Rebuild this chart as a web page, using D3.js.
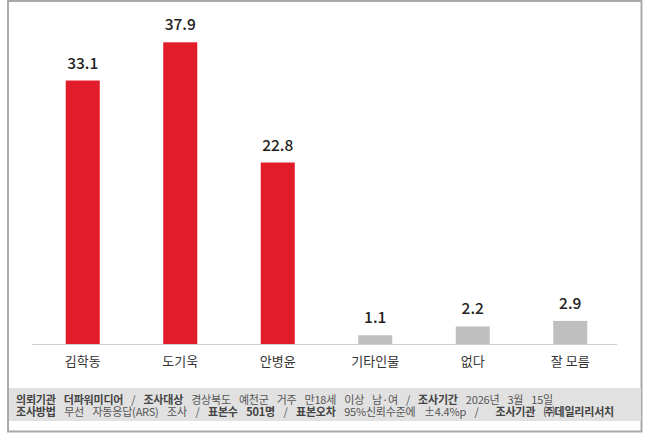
<!DOCTYPE html>
<html><head><meta charset="utf-8">
<script src="https://cdn.jsdelivr.net/npm/d3@7"></script>
<style>
html,body{margin:0;padding:0;background:#fff;}
svg{display:block;}
</style></head>
<body><svg id="c" width="649" height="441"></svg>
<script>
const categories = ["김학동","도기욱","안병윤","기타인물","없다","잘 모름"];
const values = [33.1, 37.9, 22.8, 1.1, 2.2, 2.9];
const barColors = ["#e31c2c","#e31c2c","#e31c2c","#bfbfbf","#bfbfbf","#bfbfbf"];
// [word, bold, gap weight before]
const footerLine1 = [["의뢰기관",1,0],["더파워미디어",1,1],["/",0,1],["조사대상",1,1],["경상북도",0,1],["예천군",0,1],["거주",0,1],["만18세",0,1],["이상",0,1],["남·여",0,1],["/",0,1],["조사기간",1,1],["2026년",0,1],["3월",0,1],["15일",0,1]];
const footerLine2 = [["조사방법",1,0],["무선",0,1],["자동응답(ARS)",0,1],["조사",0,1],["/",0,1],["표본수",1,1],["501명",1,1],["/",0,1],["표본오차",1,1],["95%신뢰수준에",0,1],["±4.4%p",0,1],["/",0,1],["조사기관",1,2],["㈜데일리리서치",1,1]];

const svg = d3.select("#c");
const font = "'Noto Sans CJK KR','Noto Sans',sans-serif";

// frame
svg.append("rect").attr("x",8).attr("y",1).attr("width",633.5).attr("height",430.5)
  .attr("fill","#fff").attr("stroke","#a9a9a9").attr("stroke-width",2);

// footer band
svg.append("rect").attr("x",9).attr("y",388).attr("width",632).attr("height",33).attr("fill","#e1e1e1");

const x = d3.scaleBand().domain(categories).range([34,619]).paddingInner(0.651).paddingOuter(0.3255);
const y = d3.scaleLinear().domain([0,40]).range([344,25.6]);

// axis line
svg.append("line").attr("x1",32).attr("x2",617).attr("y1",y(0)+0.5).attr("y2",y(0)+0.5)
  .attr("stroke","#d0d0d0").attr("stroke-width",1);

svg.selectAll("rect.bar").data(values).enter().append("rect").attr("class","bar")
  .attr("x",(d,i)=>x(categories[i])).attr("width",x.bandwidth())
  .attr("y",d=>y(d)).attr("height",d=>y(0)-y(d))
  .attr("fill",(d,i)=>barColors[i]);

svg.selectAll("text.val").data(values).enter().append("text").attr("class","val")
  .attr("x",(d,i)=>x(categories[i])+x.bandwidth()/2)
  .attr("y",d=>y(d)-12)
  .attr("text-anchor","middle").attr("font-family",font).attr("font-size",15.5).attr("font-weight",500)
  .attr("fill","#222").text(d=>d.toFixed(1));

const xAxis = d3.axisBottom(x).tickSize(0).tickPadding(0);
const ag = svg.append("g").attr("transform",`translate(0,${y(0)})`).call(xAxis);
ag.select(".domain").remove();
ag.selectAll("text").attr("y",22).attr("dy",0).attr("font-family",font).attr("font-size",13).attr("fill","#333");

function footer(words, yy, x0, x1){
  const g = svg.append("g");
  const els = words.map(w => g.append("text").attr("y",yy).attr("font-family",font)
      .attr("font-size",11).attr("letter-spacing",-0.2)
      .attr("font-weight",w[1]?700:400).attr("fill",w[1]?"#444":"#555").text(w[0]));
  const widths = els.map(e => e.node().getComputedTextLength());
  const total = d3.sum(widths);
  const gw = d3.sum(words, w=>w[2]);
  const gap = (x1 - x0 - total)/gw;
  let cx = x0;
  els.forEach((e,i)=>{ cx += words[i][2]*gap; e.attr("x",cx); cx += widths[i]; });
}
footer(footerLine1, 403.5, 16, 553);
footer(footerLine2, 415.5, 16, 614);
</script></body></html>
